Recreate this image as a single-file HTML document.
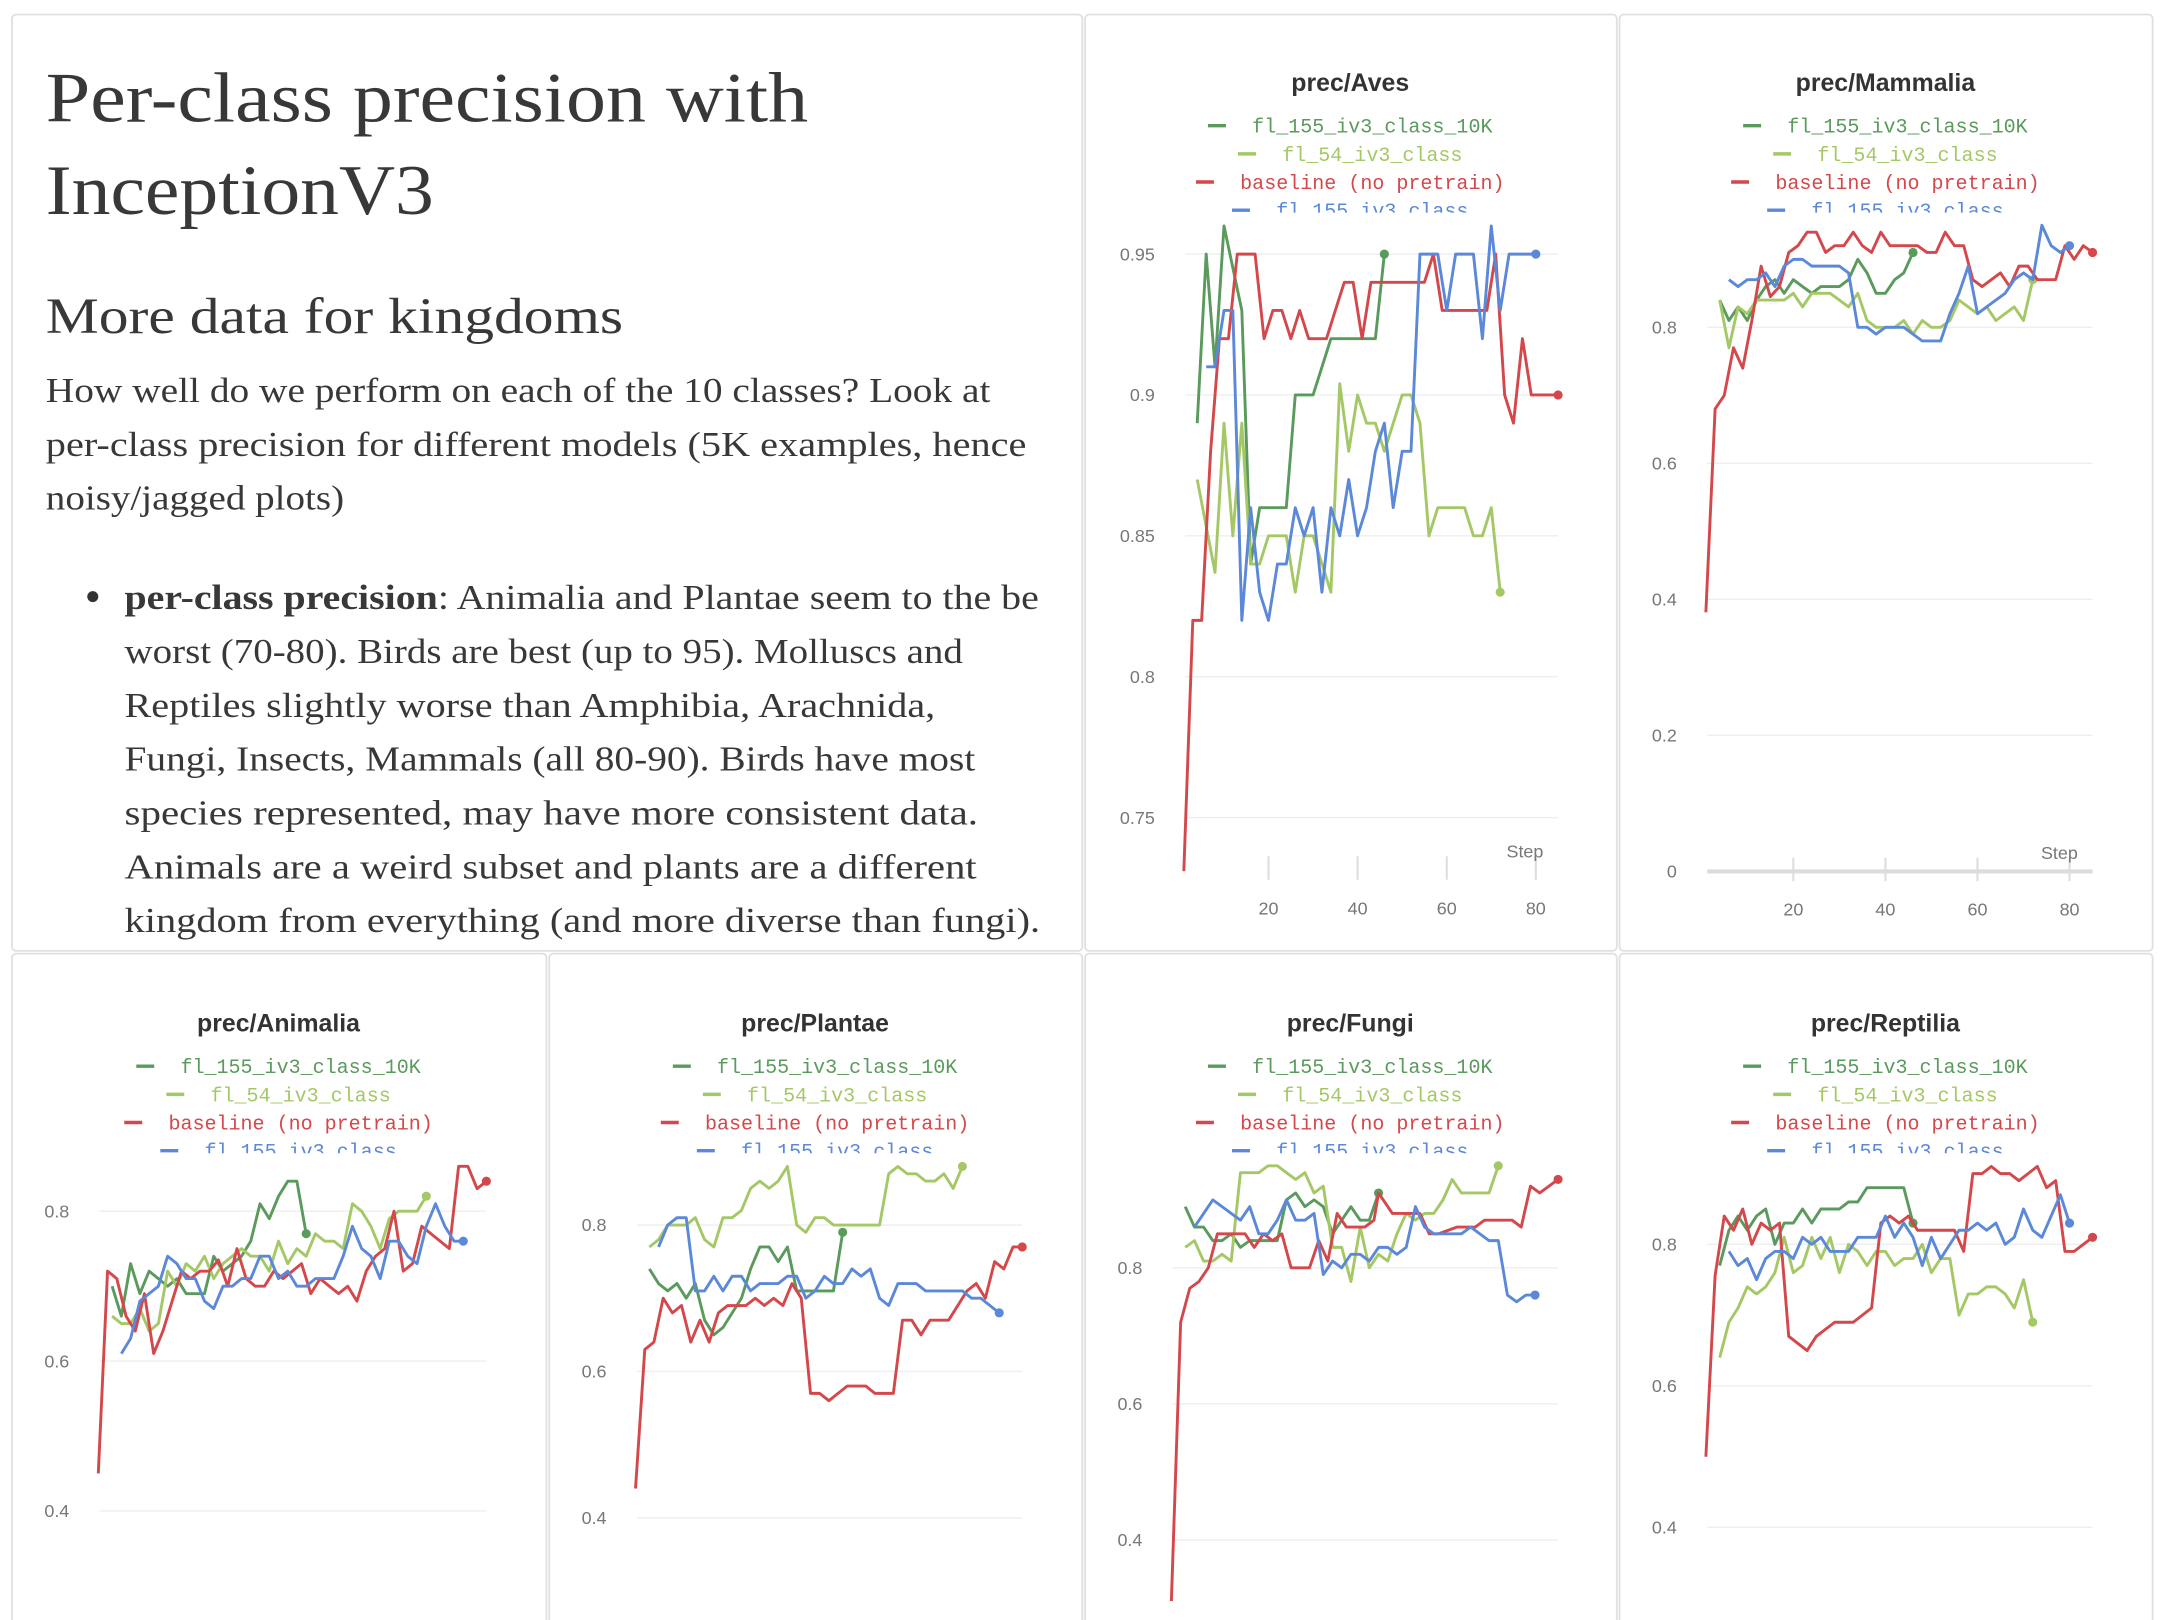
<!DOCTYPE html>
<html><head><meta charset="utf-8"><title>Per-class precision with InceptionV3</title>
<style>
html,body{margin:0;padding:0;background:#fff;}
svg{display:block;}
.serif{font-family:"Liberation Serif","DejaVu Serif",serif;fill:#383838;}
.ttl{font-family:"Liberation Sans",sans-serif;font-weight:600;fill:#333;font-size:18px;}
.ax{font-family:"Liberation Sans",sans-serif;fill:#777;font-size:13px;}
.leg{font-family:"Liberation Mono",monospace;font-size:14.5px;}
</style></head>
<body>
<svg id="root" width="2166" height="1620" viewBox="0 0 1568 1173" xmlns="http://www.w3.org/2000/svg">
<g>
<rect x="8.5" y="10.5" width="775" height="678" rx="3" fill="#fff" stroke="#e0e0e0" stroke-width="1.3"/>
<text class="serif" x="33" y="88" font-size="51" textLength="552" lengthAdjust="spacingAndGlyphs">Per-class precision with</text>
<text class="serif" x="33" y="155" font-size="51" textLength="281" lengthAdjust="spacingAndGlyphs">InceptionV3</text>
<text class="serif" x="33" y="241" font-size="37" textLength="418" lengthAdjust="spacingAndGlyphs">More data for kingdoms</text>
<g font-size="25.5">
<text class="serif" x="33" y="291" textLength="684" lengthAdjust="spacingAndGlyphs">How well do we perform on each of the 10 classes? Look at</text>
<text class="serif" x="33" y="330" textLength="710" lengthAdjust="spacingAndGlyphs">per-class precision for different models (5K examples, hence</text>
<text class="serif" x="33" y="369" textLength="216" lengthAdjust="spacingAndGlyphs">noisy/jagged plots)</text>
</g>
<g font-size="25.5">
<circle cx="67" cy="432" r="4" fill="#333"/>
<text class="serif" x="90" y="441" textLength="662" lengthAdjust="spacingAndGlyphs"><tspan font-weight="bold">per-class precision</tspan>: Animalia and Plantae seem to the be</text>
<text class="serif" x="90" y="480" textLength="607" lengthAdjust="spacingAndGlyphs">worst (70-80). Birds are best (up to 95). Molluscs and</text>
<text class="serif" x="90" y="519" textLength="587" lengthAdjust="spacingAndGlyphs">Reptiles slightly worse than Amphibia, Arachnida,</text>
<text class="serif" x="90" y="558" textLength="616" lengthAdjust="spacingAndGlyphs">Fungi, Insects, Mammals (all 80-90). Birds have most</text>
<text class="serif" x="90" y="597" textLength="618" lengthAdjust="spacingAndGlyphs">species represented, may have more consistent data.</text>
<text class="serif" x="90" y="636" textLength="617" lengthAdjust="spacingAndGlyphs">Animals are a weird subset and plants are a different</text>
<text class="serif" x="90" y="675" textLength="663" lengthAdjust="spacingAndGlyphs">kingdom from everything (and more diverse than fungi).</text>
</g>
</g>
</svg>
<script>
// ---- data (step, precision) ----
const seriesNames = ["fl_155_iv3_class_10K","fl_54_iv3_class","baseline (no pretrain)","fl_155_iv3_class"];
const xTicks = [20,40,60,80];

const aves_g_x=[4,6,8,10,14,16,18,24,26,30,34,44,46];
const aves_g_y=[.89,.95,.91,.96,.93,.84,.86,.86,.90,.90,.92,.92,.95];
const aves_l_x=[4,8,10,12,14,16,18,20,24,26,28,30,34,36,38,40,42,44,46,50,52,54,56,58,64,66,68,70,72];
const aves_l_y=[.87,.837,.89,.85,.89,.84,.84,.85,.85,.83,.85,.85,.83,.904,.88,.90,.89,.89,.88,.90,.90,.89,.85,.86,.86,.85,.85,.86,.83];
const aves_r_x=[1,3,5,7,9,11,13,17,19,21,23,25,27,29,33,35,37,39,41,43,55,57,59,69,71,73,75,77,79,85];
const aves_r_y=[.731,.82,.82,.88,.92,.92,.95,.95,.92,.93,.93,.92,.93,.92,.92,.93,.94,.94,.92,.94,.94,.95,.93,.93,.95,.90,.89,.92,.90,.90];
const aves_b_x=[6,8,10,12,14,16,18,20,22,24,26,28,30,32,34,36,38,40,42,44,46,48,50,52,54,58,60,62,66,68,70,72,74,80];
const aves_b_y=[.91,.91,.93,.93,.82,.86,.83,.82,.84,.84,.86,.85,.86,.83,.86,.85,.87,.85,.86,.88,.89,.86,.88,.88,.95,.95,.93,.95,.95,.92,.96,.93,.95,.95];
const aves_ticks=[0.75,0.8,0.85,0.9,0.95];

const mam_g_x=[4,6,8,10,12,14,16,18,20,22,24,26,30,32,34,36,38,40,42,44,46];
const mam_g_y=[.84,.81,.83,.81,.84,.86,.87,.85,.87,.86,.85,.86,.86,.87,.90,.88,.85,.85,.87,.88,.91];
const mam_l_x=[4,6,8,10,12,18,20,22,24,28,32,34,36,38,42,44,46,48,50,52,54,56,60,62,64,68,70,72];
const mam_l_y=[.84,.77,.83,.82,.84,.84,.85,.83,.85,.85,.83,.85,.81,.80,.80,.81,.79,.81,.80,.80,.81,.84,.82,.83,.81,.83,.81,.87];
const mam_r_x=[1,3,5,7,9,11,13,15,17,19,21,23,25,27,29,31,33,35,37,39,41,47,49,51,53,55,57,59,61,65,67,69,71,73,77,79,81,83,85];
const mam_r_y=[.381,.68,.70,.77,.74,.81,.89,.845,.86,.91,.92,.94,.94,.91,.92,.92,.94,.92,.91,.94,.92,.92,.91,.91,.94,.92,.92,.87,.86,.88,.86,.89,.89,.87,.87,.92,.90,.92,.91];
const mam_b_x=[6,8,10,12,14,16,18,20,22,24,30,32,34,36,38,40,44,48,52,54,56,58,60,62,66,68,70,72,74,76,78,80];
const mam_b_y=[.87,.86,.87,.87,.88,.86,.89,.90,.90,.89,.89,.88,.80,.80,.79,.80,.80,.78,.78,.82,.85,.89,.82,.83,.85,.87,.88,.87,.95,.92,.91,.92];
const mam_ticks=[0,0.2,0.4,0.6,0.8];

const ani_g_x=[4,6,8,10,12,16,18,20,24,26,28,32,34,36,38,40,42,44,46];
const ani_g_y=[.70,.66,.73,.69,.72,.70,.71,.69,.69,.74,.72,.74,.76,.81,.79,.82,.84,.84,.77];
const ani_l_x=[4,6,8,10,12,14,16,18,20,22,24,26,28,30,32,34,36,38,40,42,44,46,48,50,52,54,56,58,60,62,64,66,70,72];
const ani_l_y=[.66,.65,.65,.67,.64,.65,.72,.70,.73,.72,.74,.71,.73,.74,.75,.74,.74,.72,.76,.73,.75,.74,.77,.76,.76,.75,.81,.80,.78,.75,.79,.80,.80,.82];
const ani_r_x=[1,3,5,7,9,11,13,15,17,19,21,23,25,27,29,31,33,35,37,39,41,45,47,49,51,53,55,57,59,61,63,65,67,69,71,77,79,81,83,85];
const ani_r_y=[.45,.72,.71,.66,.64,.69,.61,.64,.68,.72,.71,.72,.72,.735,.70,.75,.71,.70,.70,.72,.71,.73,.69,.71,.70,.69,.70,.68,.72,.74,.75,.80,.72,.73,.78,.75,.86,.86,.83,.84];
const ani_b_x=[6,8,10,12,14,16,18,20,22,24,26,28,30,32,34,36,38,40,42,44,46,48,52,54,56,58,60,62,64,66,68,70,72,74,76,78,80];
const ani_b_y=[.61,.63,.68,.69,.70,.74,.73,.71,.71,.68,.67,.70,.70,.71,.71,.74,.74,.71,.72,.70,.70,.71,.71,.74,.78,.75,.74,.71,.76,.76,.74,.73,.78,.81,.78,.76,.76];
const low_ticks=[0.4,0.6,0.8];

const pla_g_x=[4,6,8,10,12,14,16,18,20,22,24,26,28,30,32,34,36,44,46];
const pla_g_y=[.74,.72,.71,.72,.70,.72,.67,.65,.66,.68,.70,.74,.77,.77,.75,.77,.71,.71,.79];
const pla_l_x=[4,6,8,12,14,16,18,20,22,24,26,28,30,32,34,36,38,40,42,44,54,56,58,60,62,64,66,68,70,72];
const pla_l_y=[.77,.78,.80,.80,.81,.78,.77,.81,.81,.82,.85,.86,.85,.86,.88,.80,.79,.81,.81,.80,.80,.87,.88,.87,.87,.86,.86,.87,.85,.88];
const pla_r_x=[1,3,5,7,9,11,13,15,17,19,21,25,27,29,31,33,35,37,39,41,43,47,51,53,57,59,61,63,65,69,73,75,77,79,81,83,85];
const pla_r_y=[.44,.63,.64,.70,.68,.69,.64,.67,.64,.68,.69,.69,.70,.69,.70,.69,.72,.70,.57,.57,.56,.58,.58,.57,.57,.67,.67,.65,.67,.67,.71,.72,.70,.75,.74,.77,.77];
const pla_b_x=[6,8,10,12,14,16,18,20,22,24,26,28,32,34,36,38,40,42,44,46,48,50,52,54,56,58,62,64,72,74,76,80];
const pla_b_y=[.77,.80,.81,.81,.71,.71,.73,.71,.73,.73,.71,.72,.72,.73,.73,.70,.71,.73,.72,.72,.74,.73,.74,.70,.69,.72,.72,.71,.71,.70,.70,.68];

const fun_g_x=[4,6,8,10,12,14,16,18,20,24,26,28,30,32,34,36,38,40,42,44,46];
const fun_g_y=[.89,.86,.86,.84,.84,.85,.83,.84,.84,.84,.90,.91,.89,.90,.89,.85,.87,.89,.87,.87,.91];
const fun_l_x=[4,6,8,10,12,14,16,20,22,24,26,28,30,32,34,36,38,40,42,44,46,48,50,52,54,56,58,60,62,64,70,72];
const fun_l_y=[.83,.84,.81,.81,.82,.81,.94,.94,.95,.95,.94,.93,.94,.91,.92,.83,.83,.78,.86,.80,.82,.81,.85,.88,.87,.88,.88,.90,.93,.91,.91,.95];
const fun_r_x=[1,3,5,7,9,11,17,19,21,23,25,27,31,33,35,37,39,43,45,46,49,55,57,59,63,67,69,75,77,79,81,85];
const fun_r_y=[.31,.72,.77,.78,.80,.85,.85,.83,.85,.84,.85,.80,.80,.84,.81,.88,.86,.86,.87,.91,.88,.88,.85,.85,.86,.86,.87,.87,.86,.92,.91,.93];
const fun_b_x=[6,10,16,18,20,22,24,26,28,30,32,34,36,38,40,42,44,46,48,50,52,54,56,58,64,66,70,72,74,76,78,80];
const fun_b_y=[.86,.90,.87,.89,.85,.85,.87,.90,.87,.87,.88,.79,.81,.80,.82,.82,.81,.83,.83,.82,.83,.89,.86,.85,.85,.86,.84,.84,.76,.75,.76,.76];

const rep_g_x=[4,6,8,10,12,14,16,18,20,22,24,26,30,32,34,36,44,46];
const rep_g_y=[.77,.82,.84,.82,.84,.85,.80,.83,.83,.85,.83,.85,.85,.86,.86,.88,.88,.83];
const rep_l_x=[4,6,8,10,12,14,16,18,20,22,24,26,28,30,32,34,36,38,40,42,44,46,48,50,52,54,56,58,60,62,64,66,68,70,72];
const rep_l_y=[.64,.69,.71,.74,.73,.74,.76,.81,.76,.77,.81,.78,.81,.76,.80,.79,.77,.79,.79,.77,.78,.78,.80,.76,.78,.78,.70,.73,.73,.74,.74,.73,.71,.75,.69];
const rep_r_x=[1,3,5,7,9,11,13,15,17,19,23,25,29,33,37,39,41,43,45,47,55,57,59,61,63,65,67,69,73,75,77,79,81,85];
const rep_r_y=[.50,.756,.84,.82,.85,.80,.83,.82,.83,.67,.65,.67,.69,.69,.71,.83,.84,.83,.84,.82,.82,.79,.90,.90,.91,.90,.90,.89,.91,.88,.89,.79,.79,.81];
const rep_b_x=[6,8,10,12,14,16,18,20,22,24,26,28,32,34,38,40,42,44,46,48,50,52,56,58,60,62,64,66,68,70,72,74,78,80];
const rep_b_y=[.79,.77,.78,.75,.78,.79,.79,.78,.81,.80,.81,.79,.79,.81,.81,.84,.81,.83,.81,.77,.81,.78,.82,.82,.83,.82,.83,.80,.81,.85,.82,.81,.87,.83];

const COLORS=["#5a9a5c","#a5c866","#d4474a","#5b88d9"];
const NS="http://www.w3.org/2000/svg";
const root=document.getElementById('root');
function mk(tag,attrs,parent){const e=document.createElementNS(NS,tag);for(const k in attrs)e.setAttribute(k,attrs[k]);(parent||root).appendChild(e);return e;}

function chart(cfg){
  const g=mk('g',{});
  
  
  const p=mk('rect',{x:cfg.px+0.5,y:cfg.py+0.5,width:cfg.pw,height:cfg.ph,rx:3,fill:'#fff',stroke:'#e0e0e0','stroke-width':1.3},g);
  
  
  const cx=cfg.px+cfg.pw/2;
  const t=mk('text',{x:cx,y:cfg.ty,'text-anchor':'middle',class:'ttl'},g);
  t.textContent=cfg.title;
  
  
  const xs=v=>cfg.L+(v-1.3)*(cfg.R-cfg.L)/83.7;
  const ys=v=>cfg.y0+(v-cfg.v0)*(cfg.y1-cfg.y0)/(cfg.v1-cfg.v0);
  cfg.ticks.forEach(v=>{
    const y=ys(v);
    const gl=mk('line',{x1:cfg.L,x2:cfg.R,y1:y,y2:y,stroke:v===0?'#dcdcdc':'#eeeeee','stroke-width':v===0?3:1},g);
    
    
    const tl=mk('text',{x:cfg.L-22,y:y+4.5,'text-anchor':'end',class:'ax'},g);
    tl.textContent=String(v);
    
    
  });
  if(cfg.xAxis){
    xTicks.forEach(v=>{
      const x=xs(v);
      const tk=mk('line',{x1:x,x2:x,y1:cfg.axY-10,y2:cfg.axY+7,stroke:'#dddddd','stroke-width':1.5},g);
      
      
      const tl=mk('text',{x:x,y:cfg.axY+32,'text-anchor':'middle',class:'ax'},g);
      tl.textContent=String(v);
      
      
    });
    const st=mk('text',{x:cfg.R-24,y:cfg.axY-9,'text-anchor':'middle',class:'ax'},g);
    st.textContent='Step';
    
    
  }
  const clipId='clip'+cfg.name;
  const cp=mk('clipPath',{id:clipId},g);
  mk('rect',{x:cfg.px,y:cfg.ty+10,width:cfg.pw,height:cfg.legClip},cp);
  const lg=mk('g',{'clip-path':'url(#'+clipId+')'},g);
  
  
  seriesNames.forEach((n,i)=>{
    const w=n.length*8.7;
    const x0=cx-(w+32)/2;
    const y=cfg.ty+26+i*20.4;
    const e=mk('g',{},lg);
    
    
    mk('line',{x1:x0,x2:x0+13,y1:y-1,y2:y-1,stroke:COLORS[i],'stroke-width':2.5},e);
    const tx=mk('text',{x:x0+32,y:y+4,class:'leg',fill:COLORS[i],textLength:w,lengthAdjust:'spacingAndGlyphs'},e);
    tx.textContent=n;
  });
  cfg.series.forEach((s,i)=>{
    const pts=s[0].map((st,k)=>xs(st).toFixed(1)+','+ys(s[1][k]).toFixed(1)).join(' ');
    const pl=mk('polyline',{points:pts,fill:'none',stroke:COLORS[i],'stroke-width':2.1,'stroke-linejoin':'round'},g);
    
    
    const last=s[0].length-1;
    const dot=mk('circle',{cx:xs(s[0][last]),cy:ys(s[1][last]),r:3.3,fill:COLORS[i]},g);
    
    
  });
}

chart({name:'aves',title:'prec/Aves',px:785,py:10,pw:385,ph:678,ty:66,L:858,R:1128,v0:0.95,y0:184,v1:0.9,y1:286,ticks:aves_ticks,xAxis:true,axY:630,legClip:78,
  series:[[aves_g_x,aves_g_y],[aves_l_x,aves_l_y],[aves_r_x,aves_r_y],[aves_b_x,aves_b_y]]});
chart({name:'mammalia',title:'prec/Mammalia',px:1172,py:10,pw:386,ph:678,ty:66,L:1236,R:1515,v0:0,y0:631,v1:0.8,y1:237,ticks:mam_ticks,xAxis:true,axY:631,legClip:78,
  series:[[mam_g_x,mam_g_y],[mam_l_x,mam_l_y],[mam_r_x,mam_r_y],[mam_b_x,mam_b_y]]});
chart({name:'animalia',title:'prec/Animalia',px:8,py:690,pw:387,ph:500,ty:747,L:72,R:352,v0:0.8,y0:877,v1:0.4,y1:1094,ticks:low_ticks,xAxis:false,legClip:78,
  series:[[ani_g_x,ani_g_y],[ani_l_x,ani_l_y],[ani_r_x,ani_r_y],[ani_b_x,ani_b_y]]});
chart({name:'plantae',title:'prec/Plantae',px:397,py:690,pw:386,ph:500,ty:747,L:461,R:740,v0:0.8,y0:887,v1:0.4,y1:1099,ticks:low_ticks,xAxis:false,legClip:78,
  series:[[pla_g_x,pla_g_y],[pla_l_x,pla_l_y],[pla_r_x,pla_r_y],[pla_b_x,pla_b_y]]});
chart({name:'fungi',title:'prec/Fungi',px:785,py:690,pw:385,ph:500,ty:747,L:849,R:1128,v0:0.8,y0:918,v1:0.4,y1:1115,ticks:low_ticks,xAxis:false,legClip:78,
  series:[[fun_g_x,fun_g_y],[fun_l_x,fun_l_y],[fun_r_x,fun_r_y],[fun_b_x,fun_b_y]]});
chart({name:'reptilia',title:'prec/Reptilia',px:1172,py:690,pw:386,ph:500,ty:747,L:1236,R:1515,v0:0.8,y0:901,v1:0.4,y1:1106,ticks:low_ticks,xAxis:false,legClip:78,
  series:[[rep_g_x,rep_g_y],[rep_l_x,rep_l_y],[rep_r_x,rep_r_y],[rep_b_x,rep_b_y]]});
</script>
</body></html>
